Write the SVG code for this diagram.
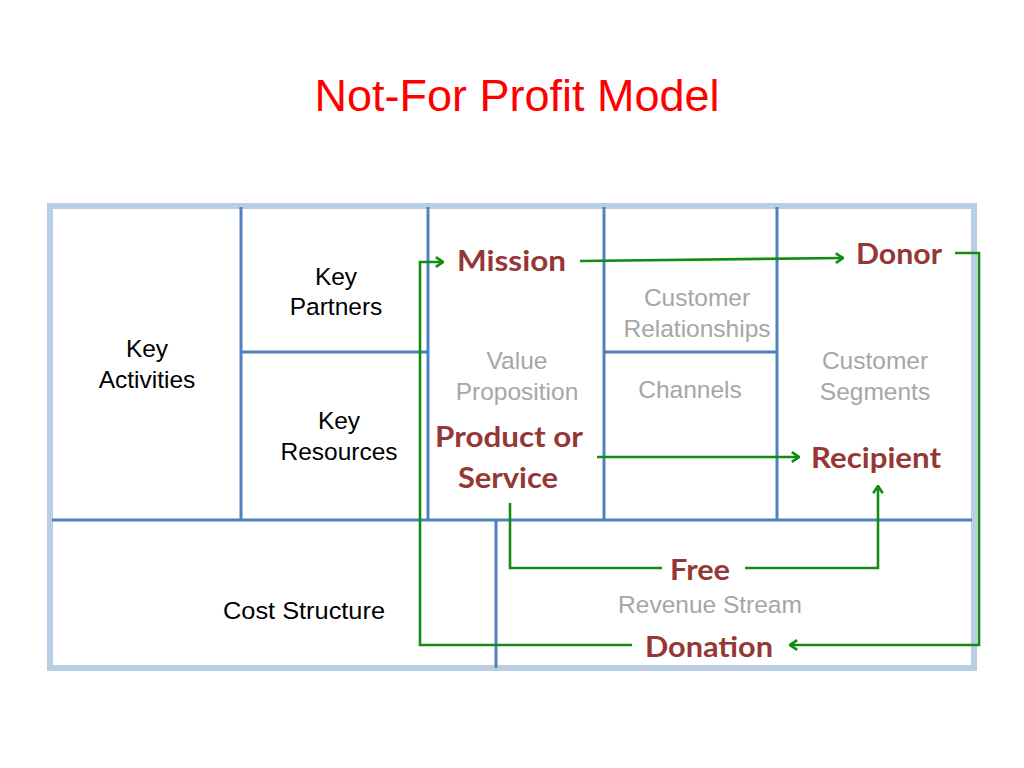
<svg xmlns="http://www.w3.org/2000/svg" width="1024" height="768" viewBox="0 0 1024 768">
<style>
.frame{fill:none;stroke:#b9cde5;stroke-width:6}
.grid{stroke:#4f81bd;stroke-width:3;fill:none}
.con{stroke:#148c14;stroke-width:2.6;fill:none}
.blk{font-family:"Liberation Sans",Arial,sans-serif;font-size:24.5px;fill:#000;text-anchor:middle}
.gry{font-family:"Liberation Sans",Arial,sans-serif;font-size:24.5px;fill:#a6a6a6;text-anchor:middle}
.red{font-family:Lato,"Open Sans",sans-serif;font-weight:bold;font-size:29px;fill:#953735}
</style>
<defs>
<marker id="ah" viewBox="0 0 10 10" refX="9" refY="5" markerWidth="12" markerHeight="12" orient="auto" markerUnits="userSpaceOnUse">
<path d="M3,1 L9,5 L3,9" fill="none" stroke="#148c14" stroke-width="2.2"/>
</marker>
</defs>
<rect width="1024" height="768" fill="#fff"/>
<text x="517" y="111" font-family="'Liberation Sans',Arial,sans-serif" font-size="45" fill="#ff0000" text-anchor="middle">Not-For Profit Model</text>
<g id="canvas">
<rect class="frame" x="50" y="206" width="924" height="462"/>
<line class="grid" x1="241" y1="207" x2="241" y2="520"/>
<line class="grid" x1="428" y1="207" x2="428" y2="520"/>
<line class="grid" x1="604" y1="207" x2="604" y2="520"/>
<line class="grid" x1="777" y1="207" x2="777" y2="520"/>
<line class="grid" x1="52" y1="520" x2="972" y2="520"/>
<line class="grid" x1="241" y1="352" x2="428" y2="352"/>
<line class="grid" x1="604" y1="352" x2="777" y2="352"/>
<line class="grid" x1="496" y1="520" x2="496" y2="668"/>
</g>
<g id="key-partners"><text class="blk" x="336" y="285">Key</text><text class="blk" x="336" y="315">Partners</text></g>
<g id="key-activities"><text class="blk" x="147" y="357">Key</text><text class="blk" x="147" y="388">Activities</text></g>
<g id="key-resources"><text class="blk" x="339" y="429">Key</text><text class="blk" x="339" y="460">Resources</text></g>
<g id="cost-structure"><text class="blk" x="304" y="619" textLength="162" lengthAdjust="spacingAndGlyphs">Cost Structure</text></g>
<g id="value-proposition"><text class="gry" x="517" y="369">Value</text><text class="gry" x="517" y="400">Proposition</text></g>
<g id="customer-relationships"><text class="gry" x="697" y="306">Customer</text><text class="gry" x="697" y="337">Relationships</text></g>
<g id="channels"><text class="gry" x="690" y="398">Channels</text></g>
<g id="customer-segments"><text class="gry" x="875" y="369">Customer</text><text class="gry" x="875" y="400">Segments</text></g>
<g id="revenue-stream"><text class="gry" x="710" y="613">Revenue Stream</text></g>
<g id="mission"><text class="red" x="457" y="271" textLength="109" lengthAdjust="spacingAndGlyphs">Mission</text></g>
<g id="donor"><text class="red" x="856" y="264" textLength="86" lengthAdjust="spacingAndGlyphs">Donor</text></g>
<g id="product"><text class="red" x="435" y="447" textLength="148" lengthAdjust="spacingAndGlyphs">Product or</text><text class="red" x="458" y="488" textLength="100" lengthAdjust="spacingAndGlyphs">Service</text></g>
<g id="recipient"><text class="red" x="811" y="468" textLength="130" lengthAdjust="spacingAndGlyphs">Recipient</text></g>
<g id="free"><text class="red" x="670" y="580" textLength="60" lengthAdjust="spacingAndGlyphs">Free</text></g>
<g id="donation"><text class="red" x="645" y="657" textLength="128" lengthAdjust="spacingAndGlyphs">Donation</text></g>
<g id="connectors">
<path class="con" d="M580,261 L843,258" marker-end="url(#ah)"/>
<path class="con" d="M955,253 L979,253 L979,645 L790,645" marker-end="url(#ah)"/>
<path class="con" d="M632,645 L420,645 L420,262 L443,262" marker-end="url(#ah)"/>
<path class="con" d="M597,457 L799,457" marker-end="url(#ah)"/>
<path class="con" d="M510,503 L510,568 L662,568"/>
<path class="con" d="M745,568 L878,568 L878,486" marker-end="url(#ah)"/>
</g>
</svg>
